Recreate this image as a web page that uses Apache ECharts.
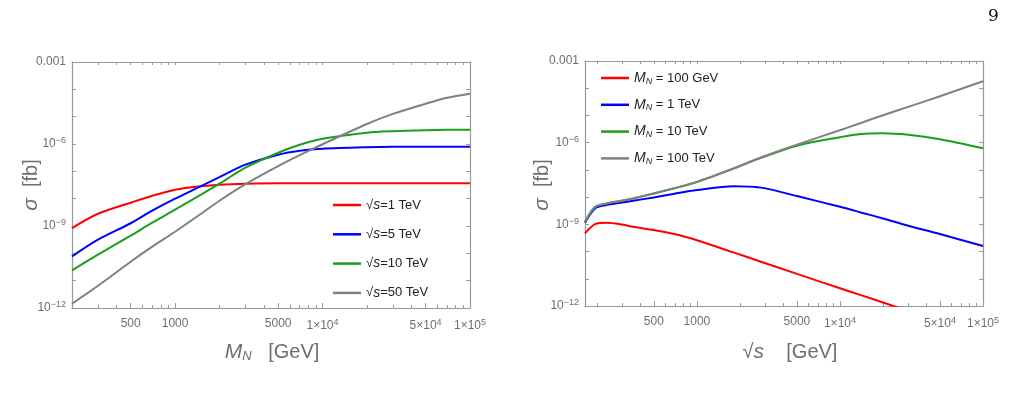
<!DOCTYPE html>
<html>
<head>
<meta charset="utf-8">
<script src="https://cdn.jsdelivr.net/npm/echarts@6/dist/echarts.min.js"></script>
<style>
  html, body { margin: 0; padding: 0; background: #fff; }
  #main { width: 1017px; height: 410px; }
</style>
</head>
<body>
<div id="main"></div>
<script>
// left panel: sigma vs M_N for several sqrt(s)
var massN = [200, 300, 500, 700, 1000, 1500, 2000, 3000, 5000, 7000, 1e4, 2e4, 3e4, 5e4, 7e4, 1e5];
var sig1TeV = [8.4e-10, 2.8e-9, 7.1e-9, 1.28e-8, 2.12e-8, 2.86e-8, 3.24e-8, 3.52e-8, 3.67e-8, 3.67e-8, 3.67e-8, 3.67e-8, 3.67e-8, 3.67e-8, 3.67e-8, 3.67e-8];
var sig5TeV = [7.7e-11, 3.15e-10, 1.26e-9, 3.62e-9, 9.95e-9, 2.88e-8, 6.17e-8, 1.75e-7, 4.06e-7, 5.68e-7, 6.73e-7, 7.64e-7, 7.9e-7, 7.96e-7, 7.96e-7, 7.96e-7];
var sig10TeV = [2.37e-11, 8.9e-11, 4.41e-10, 1.32e-9, 3.94e-9, 1.4e-8, 3.52e-8, 1.36e-7, 4.8e-7, 9.4e-7, 1.56e-6, 2.59e-6, 2.94e-6, 3.2e-6, 3.3e-6, 3.33e-6];
var sig50TeV = [1.43e-12, 6.5e-12, 4.93e-11, 1.75e-10, 6.18e-10, 2.81e-9, 8.41e-9, 3.4e-8, 1.55e-7, 3.9e-7, 9.8e-7, 5.4e-6, 1.26e-5, 2.98e-5, 4.94e-5, 6.92e-5];

// right panel: sigma vs sqrt(s) for several M_N
var sqrtS = [165, 194, 234, 300, 358, 500, 700, 1000, 1800, 2800, 5000, 1e4, 1.4e4, 2e4, 3e4, 5e4, 1e5];
var sigM100GeV = [4.66e-10, 1.02e-9, 1.14e-9, 9.8e-10, 8.1e-10, 6.15e-10, 4.4e-10, 2.6e-10, 9.3e-11, 4.24e-11, 1.51e-11, 4.5e-12, 2.5e-12, 1.35e-12, 6.6e-13, null, null];
var sigM1TeV = [1.14e-9, 3.85e-9, 5.09e-9, 6.28e-9, 7.31e-9, 9.75e-9, 1.34e-8, 1.81e-8, 2.53e-8, 2.23e-8, 1.09e-8, 4.4e-9, 2.74e-9, 1.65e-9, 8.9e-10, 4.4e-10, 1.59e-10];
var sigM10TeV = [1.2e-9, 4.3e-9, 5.8e-9, 7.4e-9, 8.9e-9, 1.36e-8, 2.12e-8, 3.6e-8, 1.11e-7, 2.75e-7, 7.74e-7, 1.59e-6, 2.1e-6, 2.23e-6, 1.96e-6, 1.34e-6, 6.27e-7];
var sigM100TeV = [1.24e-9, 4.4e-9, 5.87e-9, 7.45e-9, 8.95e-9, 1.37e-8, 2.14e-8, 3.64e-8, 1.13e-7, 2.86e-7, 8.43e-7, 2.87e-6, 5.3e-6, 1.02e-5, 2.07e-5, 5.07e-5, 1.8e-4];

// tick labels
var xLabelTicks = [500, 1000, 5000, 1e4, 5e4, 1e5];
var yLabelExps = [-3, -6, -9, -12];

var colors = ['#ff0000', '#0000ff', '#1a9f1a', '#808080'];
var axisGray = '#999999';
var labelGray = '#6e6e6e';
var font = 'Liberation Sans';

var grids = [
  { left: 72, top: 62, width: 398, height: 246, xmin: 200 },
  { left: 585, top: 61, width: 398, height: 245, xmin: 165 }
];

function minorTicks(xmin) {
  var out = [];
  [100, 1000, 10000].forEach(function(dec) {
    for (var k = 1; k <= 9; k++) {
      var v = k * dec;
      if (v >= xmin && v <= 1e5 && xLabelTicks.indexOf(v) < 0) out.push(Math.log10(v));
    }
  });
  return out;
}

function xLabel(v) {
  var map = {
    '500': '500', '1000': '1000', '5000': '5000',
    '10000': '1\u00d710{sup|4}', '50000': '5\u00d710{sup|4}', '100000': '1\u00d710{sup|5}'
  };
  var key = String(Math.round(Math.pow(10, v)));
  return map[key] || '';
}

function yLabel(v) {
  var e = Math.round(Math.log10(v));
  if (yLabelExps.indexOf(e) < 0) return '';
  if (e === -3) return '0.001';
  return '10{sup|\u2212' + (-e) + '}';
}

var richTick = {
  sup: { fontSize: 9, fontFamily: font, color: labelGray, verticalAlign: 'top', padding: [0, 0, 6, 0] }
};

var xAxes = [], yAxes = [];
grids.forEach(function(g, gi) {
  var lo = Math.log10(g.xmin);
  // data axis (log, hidden)
  xAxes.push({ type: 'log', gridIndex: gi, min: g.xmin, max: 1e5, position: 'bottom', show: false });
  // labelled ticks bottom
  xAxes.push({
    type: 'value', gridIndex: gi, min: lo, max: 5, position: 'bottom',
    axisLine: { lineStyle: { color: axisGray, width: 1.2 } },
    splitLine: { show: false },
    axisTick: { inside: true, length: 5, customValues: xLabelTicks.map(Math.log10), lineStyle: { color: axisGray } },
    axisLabel: {
      customValues: xLabelTicks.map(Math.log10), formatter: xLabel, color: labelGray,
      fontFamily: font, fontSize: 12, margin: 10, rich: richTick, showMinLabel: true, showMaxLabel: true
    }
  });
  // minor ticks bottom
  xAxes.push({
    type: 'value', gridIndex: gi, min: lo, max: 5, position: 'bottom',
    axisLine: { show: false }, splitLine: { show: false }, axisLabel: { show: false },
    axisTick: { inside: true, length: 3, customValues: minorTicks(g.xmin), lineStyle: { color: axisGray } }
  });
  // top mirror
  xAxes.push({
    type: 'value', gridIndex: gi, min: lo, max: 5, position: 'top',
    axisLine: { lineStyle: { color: axisGray, width: 1.2 } },
    splitLine: { show: false }, axisLabel: { show: false },
    axisTick: { inside: true, length: 3, customValues: xLabelTicks.map(Math.log10).concat(minorTicks(g.xmin)), lineStyle: { color: axisGray } }
  });
  yAxes.push({
    type: 'log', gridIndex: gi, min: 1e-12, max: 1e-3, position: 'left',
    axisLine: { show: true, lineStyle: { color: axisGray, width: 1.2 } },
    splitLine: { show: false },
    axisTick: { show: true, inside: true, length: 4, lineStyle: { color: axisGray } },
    axisLabel: { formatter: yLabel, color: labelGray, fontFamily: font, fontSize: 12, margin: 6, rich: richTick }
  });
  yAxes.push({
    type: 'log', gridIndex: gi, min: 1e-12, max: 1e-3, position: 'right',
    axisLine: { show: true, lineStyle: { color: axisGray, width: 1.2 } },
    splitLine: { show: false },
    axisTick: { show: true, inside: true, length: 4, lineStyle: { color: axisGray } },
    axisLabel: { show: false }
  });
});

function pairs(xs, ys) {
  return xs.map(function(x, i) { return [x, ys[i]]; });
}

function line(name, xs, ys, color, gi) {
  return {
    name: name, type: 'line', xAxisIndex: gi * 4, yAxisIndex: gi * 2,
    data: pairs(xs, ys), showSymbol: false, smooth: 0.3, clip: true,
    connectNulls: false, color: color,
    lineStyle: { color: color, width: 2 }, emphasis: { disabled: true }
  };
}

var leftNames = ['\u221as=1 TeV', '\u221as=5 TeV', '\u221as=10 TeV', '\u221as=50 TeV'];
var rightNames = ['MN = 100 GeV', 'MN = 1 TeV', 'MN = 10 TeV', 'MN = 100 TeV'];
var leftSets = [sig1TeV, sig5TeV, sig10TeV, sig50TeV];
var rightSets = [sigM100GeV, sigM1TeV, sigM10TeV, sigM100TeV];

var series = [];
leftSets.forEach(function(s, i) { series.push(line(leftNames[i], massN, s, colors[i], 0)); });
rightSets.forEach(function(s, i) { series.push(line(rightNames[i], sqrtS, s, colors[i], 1)); });

var legendRich = {
  i: { fontStyle: 'italic', fontSize: 14, fontFamily: font, color: '#222' },
  t: { fontSize: 13, fontFamily: font, color: '#222' },
  sub: { fontStyle: 'italic', fontSize: 9, fontFamily: font, color: '#222', verticalAlign: 'bottom', padding: [6, 0, 0, 0] }
};

var titleRich = {
  i: { fontStyle: 'italic', fontSize: 21, fontFamily: font, fill: labelGray },
  sub: { fontStyle: 'italic', fontSize: 13, fontFamily: font, fill: labelGray, verticalAlign: 'bottom', padding: [9, 0, 0, 0] },
  t: { fontSize: 20, fontFamily: font, fill: labelGray }
};

var chart = echarts.init(document.getElementById('main'), null, { renderer: 'canvas' });
chart.setOption({
  animation: false,
  backgroundColor: '#ffffff',
  grid: grids.map(function(g) { return { left: g.left, top: g.top, width: g.width, height: g.height }; }),
  xAxis: xAxes,
  yAxis: yAxes,
  legend: [
    {
      data: leftNames, left: 328, top: 193, orient: 'vertical', itemGap: 15.3,
      icon: 'rect', itemWidth: 28, itemHeight: 2.5, selectedMode: false,
      formatter: function(n) { return '{t|\u221a}{i|s}{t|' + n.slice(2) + '}'; },
      textStyle: { rich: legendRich }
    },
    {
      data: rightNames, left: 596, top: 66, orient: 'vertical', itemGap: 12.3,
      icon: 'rect', itemWidth: 28, itemHeight: 2.5, selectedMode: false,
      formatter: function(n) { return '{i|M}{sub|N}{t|' + n.slice(2) + '}'; },
      textStyle: { rich: legendRich }
    }
  ],
  series: series,
  graphic: [
    { type: 'text', left: 988, top: 8, style: { text: '9', font: '17px "DejaVu Serif"', fill: '#111' } },
    { type: 'text', x: 31, y: 185, rotation: Math.PI / 2, style: {
      text: '{i|\u03c3}{t|  [fb]}', align: 'center', verticalAlign: 'middle', rich: titleRich } },
    { type: 'text', x: 542, y: 185, rotation: Math.PI / 2, style: {
      text: '{i|\u03c3}{t|  [fb]}', align: 'center', verticalAlign: 'middle', rich: titleRich } },
    { type: 'text', x: 272, y: 352, style: {
      text: '{i|M}{sub|N}{t|   [GeV]}', align: 'center', verticalAlign: 'middle', rich: titleRich } },
    { type: 'text', x: 790, y: 352, style: {
      text: '{t|\u221a}{i|s}{t|    [GeV]}', align: 'center', verticalAlign: 'middle', rich: titleRich } }
  ]
});
</script>
</body>
</html>
